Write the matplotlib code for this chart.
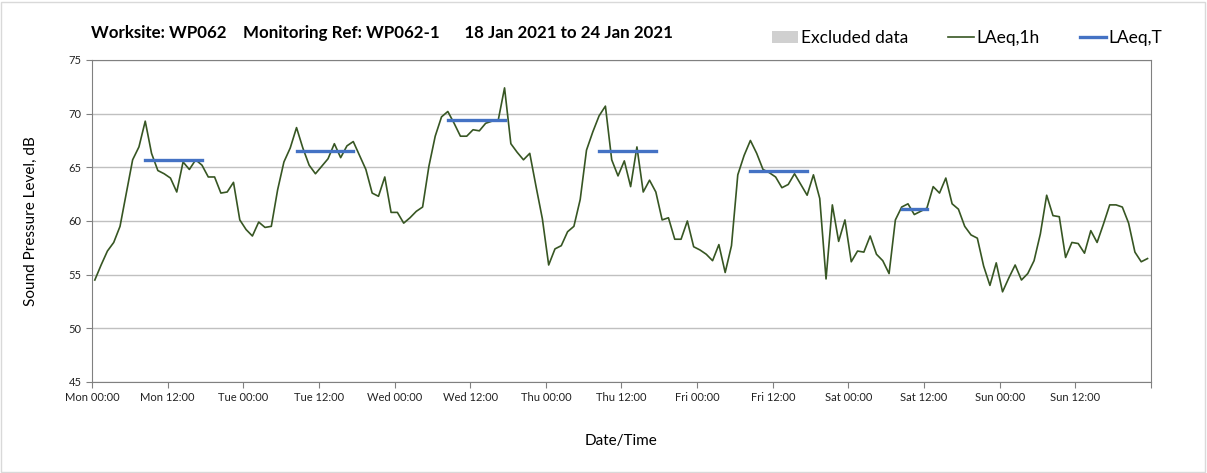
import numpy as np
import matplotlib.pyplot as plt
from matplotlib.lines import Line2D
from matplotlib.patches import Patch

plt.rcParams['font.family'] = ['Lato', 'DejaVu Sans']

# hourly LAeq,1h values, Mon 00:00 to Sun 23:00
laeq_1h = [
    54.5, 55.9, 57.2, 58.0, 59.5, 62.6, 65.7, 66.9, 69.3, 66.3, 64.7, 64.4,
    64.0, 62.7, 65.5, 64.8, 65.7, 65.2, 64.1, 64.1, 62.6, 62.7, 63.6, 60.1,
    59.2, 58.6, 59.9, 59.4, 59.5, 62.9, 65.5, 66.8, 68.7, 66.8, 65.2, 64.4,
    65.1, 65.8, 67.2, 65.9, 67.0, 67.4, 66.1, 64.8, 62.6, 62.3, 64.1, 60.8,
    60.8, 59.8, 60.3, 60.9, 61.3, 65.1, 67.9, 69.7, 70.2, 69.1, 67.9, 67.9,
    68.5, 68.4, 69.1, 69.3, 69.4, 72.4, 67.2, 66.4, 65.7, 66.3, 63.2, 60.2,
    55.9, 57.4, 57.7, 59.0, 59.5, 62.0, 66.6, 68.3, 69.8, 70.7, 65.7, 64.2,
    65.6, 63.2, 66.9, 62.7, 63.8, 62.7, 60.1, 60.3, 58.3, 58.3, 60.0, 57.6,
    57.3, 56.9, 56.3, 57.8, 55.2, 57.7, 64.3, 66.1, 67.5, 66.3, 64.8, 64.5,
    64.1, 63.1, 63.4, 64.4, 63.4, 62.4, 64.3, 62.1, 54.6, 61.5, 58.1, 60.1,
    56.2, 57.2, 57.1, 58.6, 56.9, 56.3, 55.1, 60.1, 61.3, 61.6, 60.6, 60.9,
    61.2, 63.2, 62.6, 64.0, 61.6, 61.1, 59.5, 58.7, 58.4, 55.8, 54.0, 56.1,
    53.4, 54.7, 55.9, 54.5, 55.1, 56.3, 58.8, 62.4, 60.5, 60.4, 56.6, 58.0,
    57.9, 57.0, 59.1, 58.0, 59.7, 61.5, 61.5, 61.3, 59.8, 57.1, 56.2, 56.5,
]

# LAeq,T periods: first and last hourly sample covered, level
period_start = [8, 32, 56, 80, 104, 128]
period_end = [17, 41, 65, 89, 113, 132]
laeq_t = [65.7, 66.5, 69.4, 66.5, 64.7, 61.1]

tick_labels = ['Mon 00:00', 'Mon 12:00', 'Tue 00:00', 'Tue 12:00', 'Wed 00:00',
               'Wed 12:00', 'Thu 00:00', 'Thu 12:00', 'Fri 00:00', 'Fri 12:00',
               'Sat 00:00', 'Sat 12:00', 'Sun 00:00', 'Sun 12:00', '']

green = '#375623'
blue = '#4472C4'

hours = np.arange(len(laeq_1h)) + 0.45

fig = plt.figure(figsize=(12.07, 4.73), dpi=100)
ax = fig.add_axes([0.0762, 0.1924, 0.8774, 0.6808])

ax.plot(hours, laeq_1h, color=green, lw=1.2, zorder=3)
for s, e, v in zip(period_start, period_end, laeq_t):
    ax.plot([s + 0.45, e + 0.45], [v, v], color=blue, lw=2.4, zorder=4)

ax.set_xlim(0, 168)
ax.set_ylim(45, 75)
ax.set_yticks(np.arange(45, 76, 5))
ax.set_xticks(np.arange(0, 169, 12))
ax.set_xticklabels(tick_labels)
ax.set_xticks(np.arange(0, 169, 24), minor=True)
ax.tick_params(axis='x', which='minor', length=0)
ax.grid(True, axis='x', which='minor', color='#d9d9d9', lw=1)
ax.grid(True, axis='y', which='major', color='#c0c0c0', lw=1)
ax.tick_params(axis='both', which='major', labelsize=8, length=4,
               color='#808080', labelcolor='#222222')
for sp in ax.spines.values():
    sp.set_color('#808080')

ax.set_ylabel('Sound Pressure Level, dB', fontsize=11, labelpad=22)
ax.set_xlabel('Date/Time', fontsize=11, labelpad=22)

fig.text(0.0755, 0.93, 'Worksite: WP062    Monitoring Ref: WP062-1      18 Jan 2021 to 24 Jan 2021',
         fontsize=12.2, fontweight='bold', va='center')

handles = [Patch(facecolor='#d0d0d0', edgecolor='none'),
           Line2D([], [], color=green, lw=1.2),
           Line2D([], [], color=blue, lw=2.4)]
fig.legend(handles, ['Excluded data', 'LAeq,1h', 'LAeq,T'], ncol=3,
           loc='center right', bbox_to_anchor=(0.976, 0.92), frameon=False,
           fontsize=12.5, handlelength=1.5, handletextpad=0.15, columnspacing=2.3)

fig.patches.append(plt.Rectangle((0.001, 0.002), 0.997, 0.994, transform=fig.transFigure,
                                 fill=False, edgecolor='#d9d9d9', lw=1))

fig.savefig('out.png', dpi=100)
